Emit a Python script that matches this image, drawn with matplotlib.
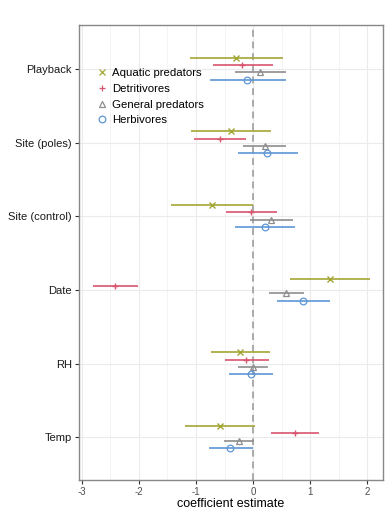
import matplotlib
matplotlib.use("Agg")
import matplotlib.pyplot as plt
import numpy as np

plt.rcParams['font.family'] = ['Liberation Sans', 'DejaVu Sans']

categories = ["Playback", "Site (poles)", "Site (control)", "Date", "RH", "Temp"]
groups = ["Aquatic predators", "Detritivores", "General predators", "Herbivores"]

# estimate, lower, upper per group, in category order
aquatic_est = [-0.30, -0.38, -0.72, 1.35, -0.23, -0.58]
aquatic_lo = [-1.11, -1.08, -1.43, 0.65, -0.74, -1.19]
aquatic_hi = [0.53, 0.32, 0.00, 2.04, 0.29, 0.04]

detrit_est = [-0.19, -0.58, -0.04, -2.41, -0.12, 0.74]
detrit_lo = [-0.71, -1.04, -0.48, -2.81, -0.50, 0.31]
detrit_hi = [0.34, -0.12, 0.41, -2.01, 0.27, 1.16]

general_est = [0.12, 0.20, 0.32, 0.58, -0.01, -0.25]
general_lo = [-0.32, -0.17, -0.05, 0.28, -0.27, -0.51]
general_hi = [0.57, 0.58, 0.70, 0.89, 0.26, 0.02]

herb_est = [-0.11, 0.25, 0.21, 0.88, -0.04, -0.40]
herb_lo = [-0.76, -0.27, -0.32, 0.42, -0.42, -0.78]
herb_hi = [0.57, 0.78, 0.74, 1.35, 0.34, -0.01]

data = [
    (aquatic_est, aquatic_lo, aquatic_hi),
    (detrit_est, detrit_lo, detrit_hi),
    (general_est, general_lo, general_hi),
    (herb_est, herb_lo, herb_hi),
]
colors = ["#A3A534", "#D9546E", "#8E8E8E", "#5E96D6"]
markers = ["x", "+", "^", "o"]
offsets = [0.155, 0.055, -0.045, -0.145]

fig = plt.figure(figsize=(3.85, 5.13), dpi=100)
ax = fig.add_axes([0.205, 0.0643, 0.79, 0.887])

n = len(categories)
ypos = np.arange(n)[::-1] + 1.0

ax.xaxis.set_minor_locator(matplotlib.ticker.MultipleLocator(0.5))
ax.grid(True, which='major', color='#EBEBEB', lw=0.8, zorder=0)
ax.grid(True, which='minor', axis='x', color='#F2F2F2', lw=0.6, zorder=0)
ax.set_axisbelow(True)

ax.axvline(0, color='#AAAAAA', ls=(0, (3.5, 2.5)), lw=1.4, zorder=1)

for (est, lo, hi), c, m, off, g in zip(data, colors, markers, offsets, groups):
    est = np.array(est); lo = np.array(lo); hi = np.array(hi)
    y = ypos + off
    ax.hlines(y, lo, hi, color=c, lw=1.2, zorder=2)
    if m in ("x", "+"):
        ax.plot(est, y, ls='none', marker=m, color=c, ms=4.8, mew=1.0, zorder=3)
    else:
        ax.plot(est, y, ls='none', marker=m, mfc='none', mec=c, ms=4.8, mew=0.9, zorder=3)
    ax.plot([], [], ls='none', marker=m, color=c, mfc='none' if m not in ("x", "+") else c,
            mec=c, ms=4.8, mew=0.9, label=g)

ax.set_xlim(-3.05, 2.275)
ax.set_ylim(0.42, 6.6)
ax.set_yticks(ypos)
ax.set_yticklabels(categories, fontsize=8, color='#1A1A1A')
ax.set_xticks([-3, -2, -1, 0, 1, 2])
ax.set_xticklabels(["-3", "-2", "-1", "0", "1", "2"], fontsize=7, color='#4D4D4D')
ax.tick_params(axis='both', which='major', length=3, color='#333333', width=0.8, pad=2)
ax.tick_params(axis='x', which='minor', length=0)
ax.set_xlabel("coefficient estimate", fontsize=9, labelpad=1)

for s in ax.spines.values():
    s.set_color('#888888')
    s.set_linewidth(1.0)

leg = ax.legend(loc='upper left', bbox_to_anchor=(0.037, 0.915), frameon=False, fontsize=8.2,
                handletextpad=0.3, labelspacing=0.5, borderaxespad=0, handlelength=1.2)

fig.savefig("out.png", dpi=100)
